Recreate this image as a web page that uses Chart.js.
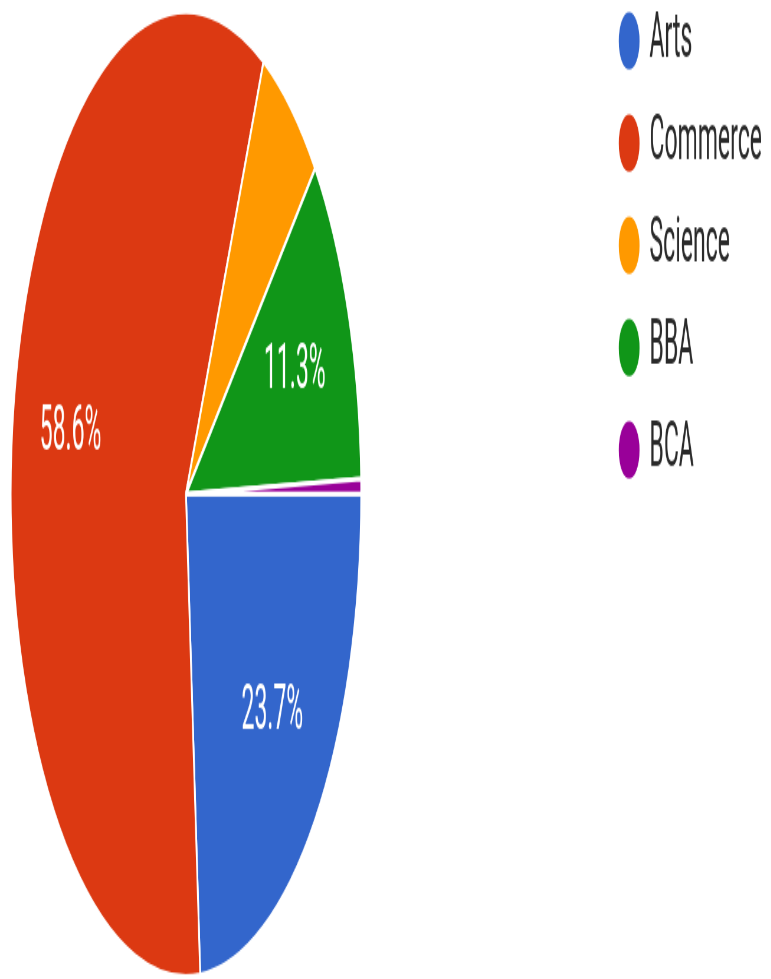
<!DOCTYPE html>
<html lang="en">
<head>
    <meta charset="UTF-8">
    <title>Stream Pie</title>
    <script src="https://cdn.jsdelivr.net/npm/chart.js"></script>
    <style>
        html, body {
            margin: 0;
            padding: 0;
            background: #ffffff;
        }
        #page {
            width: 771px;
            height: 979px;
            overflow: hidden;
            position: relative;
        }
        /* the reference is a squashed screenshot, so the whole chart is drawn small and stretched */
        #wrap {
            position: absolute;
            left: 0;
            top: 0;
            width: 436px;
            height: 201px;
            transform: scale(1.77, 4.87);
            transform-origin: 0 0;
        }
    </style>
</head>
<body>
    <div id="page">
        <div id="wrap">
            <canvas id="pieChart"></canvas>
        </div>
    </div>

    <script>
        const labels = ['Arts', 'Commerce', 'Science', 'BBA', 'BCA'];
        const shares = [23.7, 58.6, 5.9, 11.3, 0.5];
        const colors = ['#3366cc', '#dc3912', '#ff9900', '#109618', '#990099'];

        // keep the pie square on the left and leave the gap before the legend
        const fitPie = {
            id: 'fitPie',
            afterLayout(chart) {
                const a = chart.chartArea;
                a.right = a.left + (a.bottom - a.top);
                a.width = a.right - a.left;
                const lg = chart.legend;
                lg.top -= 8;
                lg.bottom -= 8;
                lg.left += 4.5;
                lg.right += 4.5;
            }
        };

        // percentage text inside the big slices
        const sliceLabels = {
            id: 'sliceLabels',
            afterDatasetsDraw(chart) {
                const ctx = chart.ctx;
                const meta = chart.getDatasetMeta(0);
                const total = shares.reduce((s, v) => s + v, 0);
                ctx.save();
                ctx.font = '13px Roboto';
                ctx.fillStyle = '#ffffff';
                ctx.textAlign = 'center';
                ctx.textBaseline = 'middle';
                meta.data.forEach((arc, i) => {
                    const pct = shares[i] / total * 100;
                    if (pct < 10) return;
                    const p = arc.getProps(['x', 'y', 'startAngle', 'endAngle', 'outerRadius'], true);
                    const mid = (p.startAngle + p.endAngle) / 2;
                    const r = p.outerRadius * 0.67;
                    ctx.fillText(pct.toFixed(1) + '%', p.x + Math.cos(mid) * r, p.y + Math.sin(mid) * r);
                });
                ctx.restore();
            }
        };

        const ctx = document.getElementById('pieChart').getContext('2d');
        const pieChart = new Chart(ctx, {
            type: 'pie',
            data: {
                labels: labels,
                datasets: [{
                    data: shares,
                    backgroundColor: colors,
                    borderColor: '#ffffff',
                    borderWidth: 1
                }]
            },
            options: {
                responsive: true,
                maintainAspectRatio: false,
                animation: false,
                devicePixelRatio: 3,
                rotation: 90,
                layout: { padding: { left: 5.5, top: 1.9, bottom: 0, right: 0 } },
                plugins: {
                    legend: {
                        position: 'right',
                        align: 'start',
                        labels: {
                            usePointStyle: true,
                            pointStyle: 'circle',
                            boxWidth: 10,
                            boxHeight: 9,
                            padding: 8,
                            color: '#2a2a2a',
                            font: { family: 'Roboto', size: 13 }
                        }
                    },
                    tooltip: { enabled: false }
                }
            },
            plugins: [fitPie, sliceLabels]
        });
    </script>
</body>
</html>
